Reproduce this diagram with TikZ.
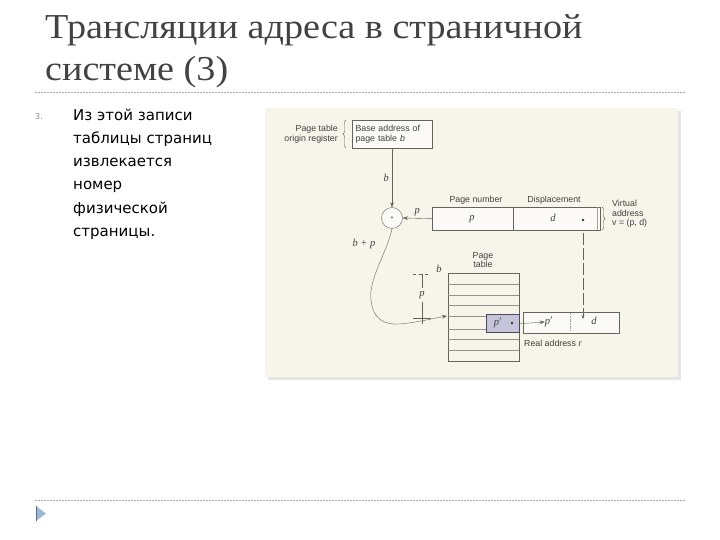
\documentclass[tikz,border=0pt]{standalone}
\usepackage{fontspec}
\setmainfont{Liberation Serif}
\newfontfamily\titlefont[FakeStretch=1.09]{Liberation Serif}
\newfontfamily\bodyfont{DejaVu Sans}
\newfontfamily\figfont{Liberation Sans}
\usetikzlibrary{arrows.meta, positioning, decorations.pathreplacing}

\definecolor{titlegray}{HTML}{424242}
\definecolor{paper}{HTML}{F7F4EA}
\definecolor{figline}{HTML}{66635D}
\definecolor{slotfill}{HTML}{C6C4DA}
\definecolor{slotdraw}{HTML}{4A4A5C}
\definecolor{rulegray}{HTML}{A9A9A9}
\definecolor{bulletblue}{HTML}{9CBAD8}

\begin{document}
\begin{tikzpicture}[x=1pt, y=-1pt,
        figtext/.style={font=\figfont\fontsize{8.8}{9.5}\selectfont, text=black!75, inner sep=0pt},
        varlabel/.style={font=\fontsize{10.5}{11}\selectfont\itshape, text=black!75, inner sep=0pt},
        reg/.style={rectangle, draw=figline, fill=white!55!paper, inner sep=0pt},
        arrow/.style={-{Stealth[length=5pt, width=3.6pt]}, figline},
        rule/.style={rulegray, dash pattern=on 2pt off 1pt, line width=0.7pt}
    ]
    \useasboundingbox (0,0) rectangle (720,540);
    \fill[white] (0,0) rectangle (720,540);

    % Slide text
    \node[anchor=base west, inner sep=0pt, text=titlegray, font=\titlefont\fontsize{35}{44}\selectfont] (title1) at (45,39) {Трансляции адреса в страничной};
    \node[anchor=base west, inner sep=0pt, text=titlegray, font=\titlefont\fontsize{35}{44}\selectfont] (title2) at (45,81) {системе (3)};
    \draw[rule] (35,92) -- (685,92);
    \node[anchor=base west, inner sep=0pt, text=black!45, font=\bodyfont\fontsize{8}{9}\selectfont] (num) at (35,120) {3.};
    \node[anchor=north west, inner sep=0pt, align=left, font=\bodyfont\fontsize{15}{23.3}\selectfont] (item) at (73,108.5)
        {Из этой записи\\таблицы страниц\\извлекается\\номер\\физической\\страницы.};
    \draw[rule] (35,500) -- (685,500);
    \fill[bulletblue] (36,506) -- (46,513.5) -- (36,521) -- cycle;
    \draw[bulletblue!60!black] (36,506) -- (36,521);

    % Figure background
    \fill[black!10] (268,111) rectangle (681,380);
    \fill[paper] (265,108) rectangle (678,377);

    % Nodes
    \node[reg, minimum width=80, minimum height=28, text width=73pt, align=left, font=\figfont\fontsize{8.8}{9.5}\selectfont, text=black!75] (base) at (392,134) {Base address of\\page table \textit{b}};
    \node[figtext, align=right, anchor=east] (ptor) at (338,134) {Page table\\origin register};
    \node[circle, draw=figline, fill=white!55!paper, minimum size=21, inner sep=0pt, font=\figfont\tiny] (sum) at (392,218) {+};

    \node[reg, minimum width=168, minimum height=23, anchor=north west] (vaddr) at (432,207) {};
    \draw[figline] (513,207) -- (513,230);
    \draw[figline!60] (597,207) -- (597,230);
    \node[figtext] (pnum) at (476,200) {Page number};
    \node[figtext] (disp) at (554,200) {Displacement};
    \node[varlabel] (vp) at (472,219) {p};
    \node[varlabel] (vd) at (553,218) {d};
    \fill[black!80] (583,220) circle (1.4);
    \coordinate (vtail) at (583,233);
    \node[figtext, align=left, anchor=west] (vlabel) at (612,214) {Virtual\\address\\v = (p, d)};

    \node[rectangle, draw=figline, minimum width=71, minimum height=88, anchor=north west, inner sep=0pt] (ptab) at (448,273) {};
    \foreach \y in {284,295,305,316,329,339,350}
        \draw[figline!70] (448,\y) -- (519,\y);
    \node[figtext, align=center] (ptlabel) at (483,260) {Page\\table};
    \node[varlabel] (tb) at (439,269) {b};
    \coordinate (entry) at (447,316);

    \node[rectangle, draw=slotdraw, line width=1.3pt, fill=slotfill, minimum width=33, minimum height=18, anchor=north west, inner sep=0pt] (slot) at (486,314) {};
    \node[varlabel] (sp) at (498,323) {p$'$};
    \fill[black!80] (512,323) circle (1.4);

    \node[reg, minimum width=96, minimum height=21, anchor=north west] (raddr) at (523,312) {};
    \node[varlabel] (rp) at (549,322) {p$'$};
    \node[varlabel] (rd) at (594,321) {d};
    \draw[figline!60, densely dotted] (570,313) -- (570,331);
    \coordinate (rtip) at (583,319);
    \node[figtext, anchor=west] (rlabel) at (524,343) {Real address \textit{r}};

    % Offset p
    \draw[figline, dashed] (413,274) -- (431,274);
    \draw[figline] (422,274) -- (422,288);
    \node[varlabel] (dimp) at (422,295) {p};
    \draw[figline] (422,302) -- (422,324);
    \draw[figline, line width=0.9pt] (413,318) -- (431,318);

    % Edges
    \draw[decorate, decoration={brace, amplitude=3pt}, figline] (346,148) -- (346,120);
    \draw[decorate, decoration={brace, amplitude=3pt}, figline] (602,207) -- (602,230);
    \draw[arrow] (base.south) -- node[varlabel, left=3pt] {b} (sum.north);
    \draw[arrow] (vaddr.west) -- node[varlabel, above=2pt] {p} (sum.east);
    \draw[arrow] (sum.south) .. controls (388,250) and (368,280) .. (371,300)
        .. controls (373,320) and (385,325) .. (400,324)
        .. controls (420,322) and (435,318) .. (entry);
    \node[varlabel] (bp) at (364,244) {b + p};
    \draw[arrow] (slot.east) -- (rp.west);
    \draw[figline, dash pattern=on 12pt off 3pt, -{Stealth[length=4pt, width=3pt]}] (vtail) -- (rtip);
\end{tikzpicture}
\end{document}
